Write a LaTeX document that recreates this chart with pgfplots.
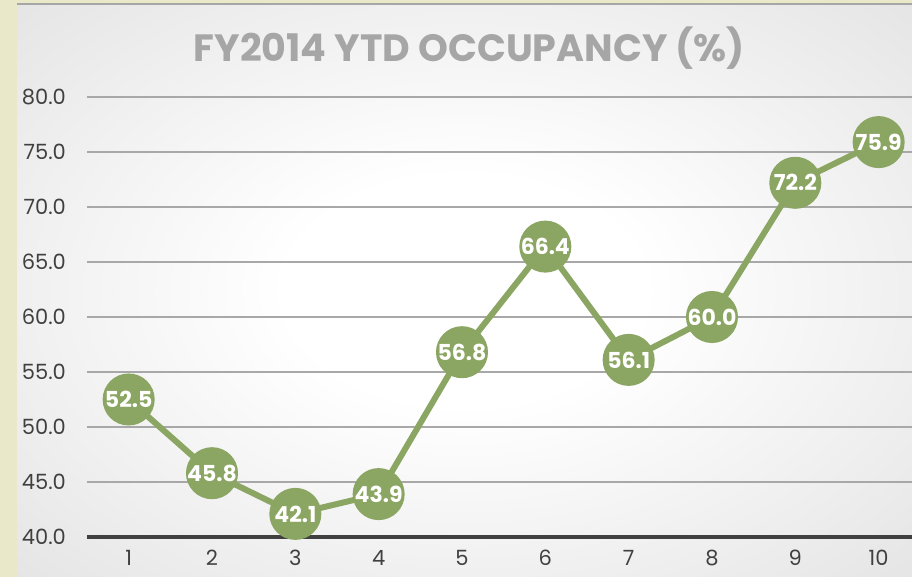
\documentclass[border=0pt]{standalone}
\usepackage{fontspec}
\setmainfont{Poppins}
\usepackage{pgfplots}
\pgfplotsset{compat=1.18}

\definecolor{cream}{HTML}{E9E8C8}
\definecolor{linegreen}{HTML}{8BA562}
\definecolor{titlegray}{HTML}{A6A6A6}
\definecolor{labelgray}{HTML}{404040}
\definecolor{gridgray}{HTML}{A8A8A8}

\pgfdeclareradialshading{chartbg}{\pgfpoint{0bp}{0bp}}{%
  color(0bp)=(white); color(10bp)=(white);
  color(30bp)=(black!8); color(50bp)=(black!16); color(72bp)=(black!23)}

\begin{document}
\begin{tikzpicture}
  \useasboundingbox (0,0) rectangle (456pt,288.5pt);
  \clip (0,0) rectangle (456pt,288.5pt);
  \fill[cream] (0,0) rectangle (456pt,288.5pt);
  \shade[shading=chartbg] (8.5pt,0) rectangle (456pt,286.5pt);
  \draw[gray!70, line width=0.8pt] (8.5pt,286.5pt) -- (456pt,286.5pt);

  \begin{axis}[
    at={(43.5pt,20pt)}, anchor=south west,
    scale only axis, width=412.5pt, height=220pt,
    xmin=0.5, xmax=10.4, ymin=40, ymax=80,
    xtick={1,...,10}, ytick={40,45,...,80},
    clip=false,
    axis x line*=bottom, axis y line*=left,
    y axis line style={draw=none},
    x axis line style={line width=2pt, color=labelgray},
    tick style={draw=none},
    ymajorgrids, grid style={line width=0.8pt, color=gridgray},
    ticklabel style={font=\fontsize{10.5}{12}\selectfont, color=labelgray},
    /pgf/number format/assume math mode=true,
    yticklabel={\pgfmathprintnumber[fixed, fixed zerofill, precision=1]{\tick}},
    yticklabel style={xshift=-7pt},
    xticklabel style={yshift=-3pt},
    nodes near coords,
    nodes near coords align={center},
    every node near coord/.append style={anchor=center, color=white,
      font=\bfseries\fontsize{11}{13}\selectfont,
      /pgf/number format/fixed, /pgf/number format/fixed zerofill,
      /pgf/number format/precision=1},
  ]
  \addplot[color=linegreen, line width=3pt, mark=*, mark size=11.5pt,
    mark options={fill=linegreen, draw=none}]
    coordinates {(1,52.5) (2,45.8) (3,42.1) (4,43.9) (5,56.8)
                 (6,66.4) (7,56.1) (8,60.0) (9,72.2) (10,75.9)};
  \end{axis}

  \node[font=\bfseries\fontsize{19}{23}\selectfont, color=titlegray]
    at (234.75pt,264.5pt) {FY2014 YTD OCCUPANCY (\%)};
\end{tikzpicture}
\end{document}
